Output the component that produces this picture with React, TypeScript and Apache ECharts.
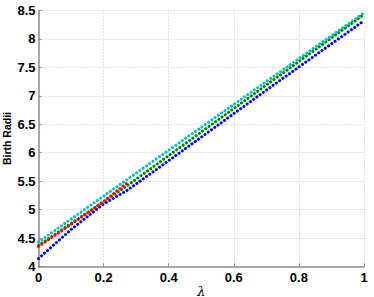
import React, { useEffect, useRef } from "react";
import * as echarts from "echarts";

const xTicks = { min: 0, max: 1, interval: 0.2 };
const yTicks = { min: 4, max: 8.5, interval: 0.5 };

const blueLambda = [0, 0.1, 0.2, 0.27, 0.4, 0.7, 1];
const blueRadii = [4.14, 4.65, 5.1, 5.33, 5.86, 7.1, 8.32];

const greenLambda = [0, 0.2, 0.27, 0.4, 1];
const greenRadii = [4.37, 5.14, 5.41, 5.95, 8.43];

const redLambda = [0, 0.1, 0.2, 0.27];
const redRadii = [4.35, 4.74, 5.14, 5.46];

const cyanLambda = [0, 0.27, 1];
const cyanRadii = [4.43, 5.52, 8.46];

const pairs = (xs: number[], ys: number[]) => xs.map((x, i) => [x, ys[i]]);

const axisGray = "#8a8a8a";
const labelFont = "'Liberation Sans', Arial, sans-serif";

function dotted(name: string, color: string, data: number[][]) {
  return {
    name,
    type: "line",
    data,
    showSymbol: false,
    symbol: "none",
    lineStyle: {
      color,
      width: 3,
      type: [0.1, 3.9],
      cap: "round",
    },
  };
}

export default function App() {
  const ref = useRef<HTMLDivElement>(null);
  useEffect(() => {
    if (!ref.current) return;
    const chart = echarts.init(ref.current, null, { renderer: "svg" });
    chart.setOption({
      animation: false,
      backgroundColor: "#ffffff",
      grid: {
        left: 38.5,
        right: 10,
        top: 10.5,
        bottom: 30.5,
        containLabel: false,
        outerBoundsMode: "none",
      },
      xAxis: {
        type: "value",
        min: xTicks.min,
        max: xTicks.max,
        interval: xTicks.interval,
        name: "λ",
        nameLocation: "middle",
        nameGap: 18,
        nameMoveOverlap: false,
        nameTextStyle: {
          fontFamily: "'DejaVu Serif', 'Liberation Serif', serif",
          fontStyle: "italic",
          fontSize: 13,
          color: "#000",
        },
        axisLine: { show: true, onZero: false, lineStyle: { color: axisGray, width: 1.5 } },
        axisTick: { show: true, inside: true, length: 3, lineStyle: { color: axisGray } },
        axisLabel: {
          fontFamily: labelFont,
          fontWeight: "bold",
          fontSize: 13,
          color: "#000",
          margin: 4,
        },
        splitLine: { show: true, lineStyle: { color: "#c4c4c4", width: 1, type: [1, 2] } },
      },
      yAxis: {
        type: "value",
        min: yTicks.min,
        max: yTicks.max,
        interval: yTicks.interval,
        name: "Birth Radii",
        nameLocation: "middle",
        nameGap: 26,
        nameMoveOverlap: false,
        nameTextStyle: {
          fontFamily: labelFont,
          fontWeight: "bold",
          fontSize: 10.5,
          color: "#000",
        },
        axisLine: { show: true, onZero: false, lineStyle: { color: axisGray, width: 1.5 } },
        axisTick: { show: true, inside: true, length: 3, lineStyle: { color: axisGray } },
        axisLabel: {
          fontFamily: labelFont,
          fontWeight: "bold",
          fontSize: 13,
          color: "#000",
          margin: 3,
        },
        splitLine: { show: true, lineStyle: { color: "#c4c4c4", width: 1, type: [1, 2] } },
      },
      series: [
        dotted("blue", "#0000ff", pairs(blueLambda, blueRadii)),
        dotted("green", "#008000", pairs(greenLambda, greenRadii)),
        dotted("red", "#ff0000", pairs(redLambda, redRadii)),
        dotted("cyan", "#00bfbf", pairs(cyanLambda, cyanRadii)),
      ],
    });
    return () => chart.dispose();
  }, []);
  return <div ref={ref} style={{ width: 374, height: 297, position: "absolute", left: 0, top: 0 }} />;
}
